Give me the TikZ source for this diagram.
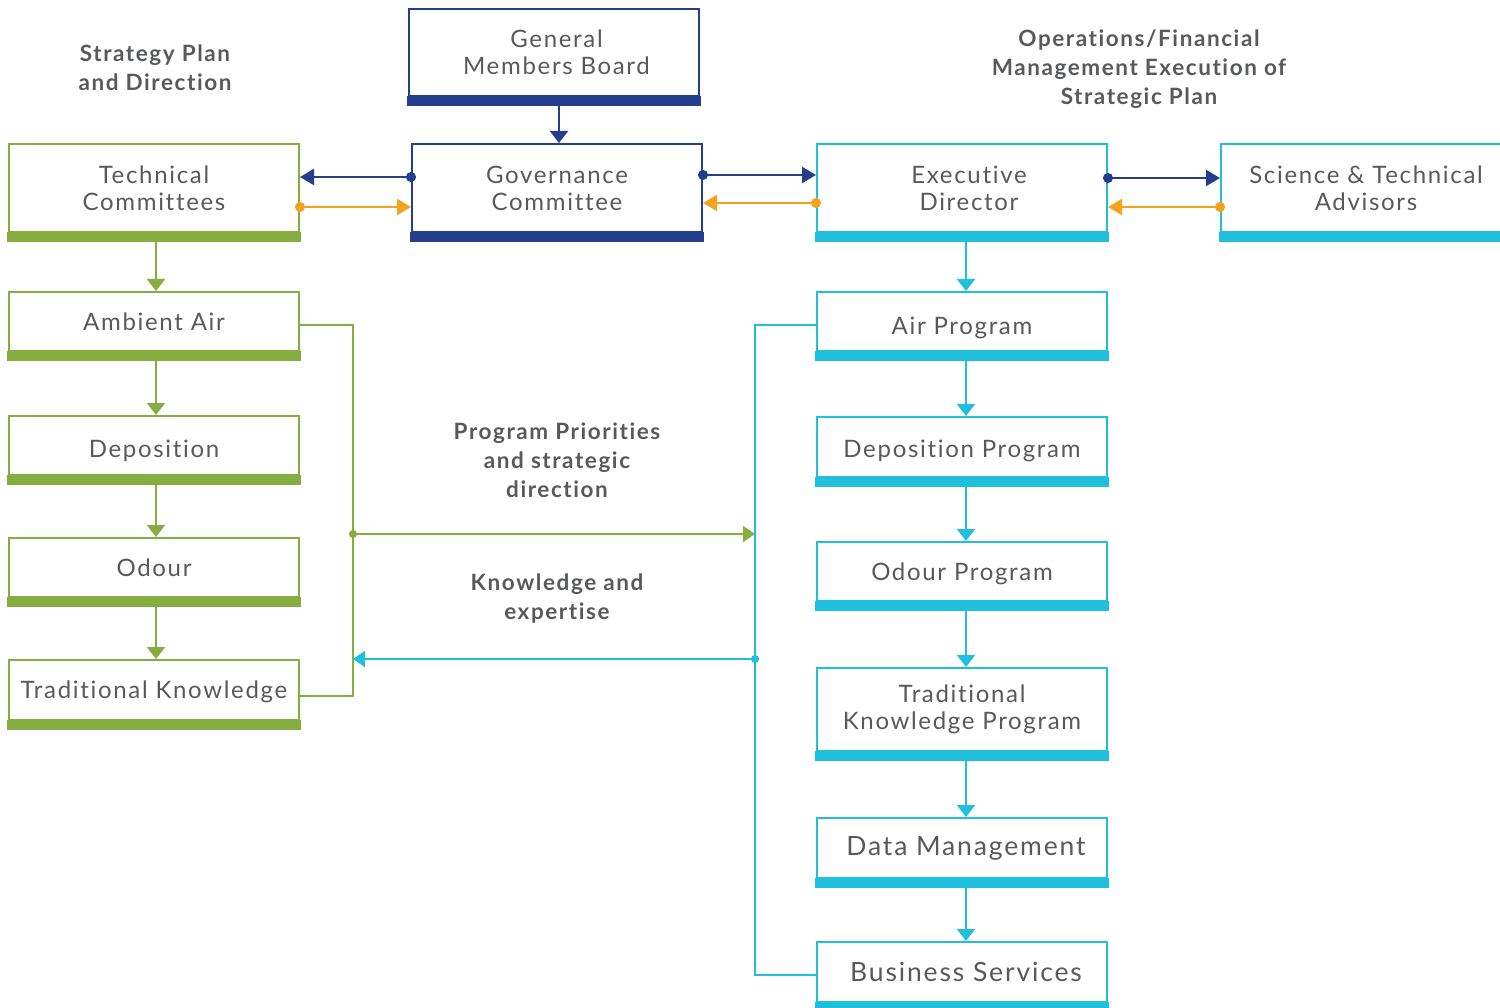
\documentclass[tikz,border=0pt]{standalone}
\usepackage{fontspec}
\setmainfont{Lato}[LetterSpace=7, Ligatures={NoCommon,NoRequired,NoContextual}]
\usetikzlibrary{arrows.meta}
\definecolor{cgreen}{HTML}{86AD3F}
\definecolor{cnavy}{HTML}{233E8C}
\definecolor{ccyan}{HTML}{1FBFDD}
\definecolor{corange}{HTML}{F5A31E}
\definecolor{tgray}{HTML}{58595B}
\newcommand\boxbar[2]{\fill[#2] ([xshift=-1pt,yshift=1pt]#1.south west) rectangle ([xshift=1pt,yshift=-9pt]#1.south east);}
\begin{document}
\begin{tikzpicture}[x=1pt,y=1pt,
  box/.style={draw=#1, line width=2pt, minimum width=290pt, inner sep=0pt, align=center, text=tgray, font=\fontsize{24}{27}\selectfont},
  lower/.style={text height=#1, text depth=5pt},
  head/.style={align=center, text=tgray, font=\bfseries\fontsize{22.5}{29}\selectfont},
  varrow/.style={draw=#1, line width=2pt, -{Triangle[length=12pt,width=18pt]}},
  harrow/.style={draw=#1, line width=2.2pt, {Circle[length=10pt]}-{Triangle[length=14pt,width=16pt]}, shorten <=-5pt},
  bracket/.style={draw=#1, line width=1.3pt}
]
\clip (0,0) rectangle (1500,-1008);
\useasboundingbox (0,0) rectangle (1500,-1008);

% headings
\node[head] (h1) at (155,-68) {Strategy Plan\\and Direction};
\node[head] (h2) at (1139,-69) {Operations/Financial\\Management Execution of\\Strategic Plan};
\node[head] (h3) at (557,-460) {Program Priorities\\and strategic\\direction};
\node[head] (h4) at (557,-599) {Knowledge and\\expertise};

% navy boxes
\node[box=cnavy, minimum height=87pt] (gmb) at (554,-52.5) {\hspace*{5pt}General\\\hspace*{5pt}Members Board};
\node[box=cnavy, minimum height=88pt] (gov) at (557,-188) {Governance\\Committee};
\boxbar{gmb}{cnavy}
\boxbar{gov}{cnavy}

% green boxes
\node[box=cgreen, minimum height=88pt] (tc) at (154,-188) {Technical\\Committees};
\node[box=cgreen, minimum height=59pt] (aa) at (154,-321.5) {Ambient Air};
\node[box=cgreen, minimum height=59pt, lower=28pt] (dep) at (154,-445.5) {Deposition};
\node[box=cgreen, minimum height=59pt] (od) at (154,-567.5) {Odour};
\node[box=cgreen, minimum height=60pt, lower=22pt] (tk) at (154,-690) {Traditional Knowledge};
\boxbar{tc}{cgreen}
\boxbar{aa}{cgreen}
\boxbar{dep}{cgreen}
\boxbar{od}{cgreen}
\boxbar{tk}{cgreen}

% cyan boxes
\node[box=ccyan, minimum height=88pt] (ed) at (962,-188) {\hspace*{14pt}Executive\\\hspace*{14pt}Director};
\node[box=ccyan, minimum height=88pt] (sa) at (1366,-188) {Science \& Technical\\Advisors};
\node[box=ccyan, minimum height=59pt, lower=31pt] (ap) at (962,-321.5) {Air Program};
\node[box=ccyan, minimum height=60pt, lower=25pt] (dp) at (962,-447) {Deposition Program};
\node[box=ccyan, minimum height=59pt, lower=23pt] (op) at (962,-571.5) {Odour Program};
\node[box=ccyan, minimum height=83pt] (tkp) at (962,-709.5) {Traditional\\Knowledge Program};
\node[box=ccyan, minimum height=60pt, font=\fontsize{26.5}{30}\selectfont] (dm) at (962,-848) {\hspace*{8pt}Data Management};
\node[box=ccyan, minimum height=60pt, font=\fontsize{26.5}{30}\selectfont] (bs) at (962,-972) {\hspace*{8pt}Business Services};
\boxbar{ed}{ccyan}
\boxbar{sa}{ccyan}
\boxbar{ap}{ccyan}
\boxbar{dp}{ccyan}
\boxbar{op}{ccyan}
\boxbar{tkp}{ccyan}
\boxbar{dm}{ccyan}
\boxbar{bs}{ccyan}

% vertical arrows
\draw[varrow=cnavy] ([xshift=5pt,yshift=-9pt]gmb.south) -- ([xshift=2pt]gov.north);
\draw[varrow=cgreen] ([xshift=2pt,yshift=-9pt]tc.south) -- ([xshift=2pt]aa.north);
\draw[varrow=cgreen] ([xshift=2pt,yshift=-9pt]aa.south) -- ([xshift=2pt]dep.north);
\draw[varrow=cgreen] ([xshift=2pt,yshift=-9pt]dep.south) -- ([xshift=2pt]od.north);
\draw[varrow=cgreen] ([xshift=2pt,yshift=-9pt]od.south) -- ([xshift=2pt]tk.north);
\draw[varrow=ccyan] ([xshift=4pt,yshift=-9pt]ed.south) -- ([xshift=4pt]ap.north);
\draw[varrow=ccyan] ([xshift=4pt,yshift=-9pt]ap.south) -- ([xshift=4pt]dp.north);
\draw[varrow=ccyan] ([xshift=4pt,yshift=-9pt]dp.south) -- ([xshift=4pt]op.north);
\draw[varrow=ccyan] ([xshift=4pt,yshift=-9pt]op.south) -- ([xshift=4pt]tkp.north);
\draw[varrow=ccyan] ([xshift=4pt,yshift=-9pt]tkp.south) -- ([xshift=4pt]dm.north);
\draw[varrow=ccyan] ([xshift=4pt,yshift=-9pt]dm.south) -- ([xshift=4pt]bs.north);

% horizontal arrows
\draw[harrow=cnavy] ([yshift=11pt]gov.west) -- ([yshift=11pt]tc.east);
\draw[harrow=corange] ([yshift=-19pt]tc.east) -- ([yshift=-19pt]gov.west);
\draw[harrow=cnavy] ([yshift=13pt]gov.east) -- ([yshift=13pt]ed.west);
\draw[harrow=corange] ([yshift=-15pt]ed.west) -- ([yshift=-15pt]gov.east);
\draw[harrow=cnavy] ([yshift=10pt]ed.east) -- ([yshift=10pt]sa.west);
\draw[harrow=corange] ([yshift=-19pt]sa.west) -- ([yshift=-19pt]ed.east);

% brackets
\coordinate (gx) at (353,0);
\coordinate (cx) at (755,0);
\draw[bracket=cgreen] ([yshift=-3.5pt]aa.east) -- ([yshift=-3.5pt]aa.east -| gx) -- ([yshift=-6pt]tk.east -| gx) -- ([yshift=-6pt]tk.east);
\draw[bracket=ccyan] ([yshift=-3.5pt]ap.west) -- ([yshift=-3.5pt]ap.west -| cx) -- ([yshift=-3pt]bs.west -| cx) -- ([yshift=-3pt]bs.west);
\coordinate (g1) at (353,-534);
\coordinate (c1) at (755,-534);
\coordinate (c2) at (755,-659);
\coordinate (g2) at (353,-659);
\draw[harrow=cgreen, line width=2pt, {Circle[length=8pt]}-{Triangle[length=12pt,width=16pt]}, shorten <=-4pt] (g1) -- (c1);
\draw[harrow=ccyan, line width=2pt, {Circle[length=8pt]}-{Triangle[length=12pt,width=16pt]}, shorten <=-4pt] (c2) -- (g2);
\end{tikzpicture}
\end{document}
